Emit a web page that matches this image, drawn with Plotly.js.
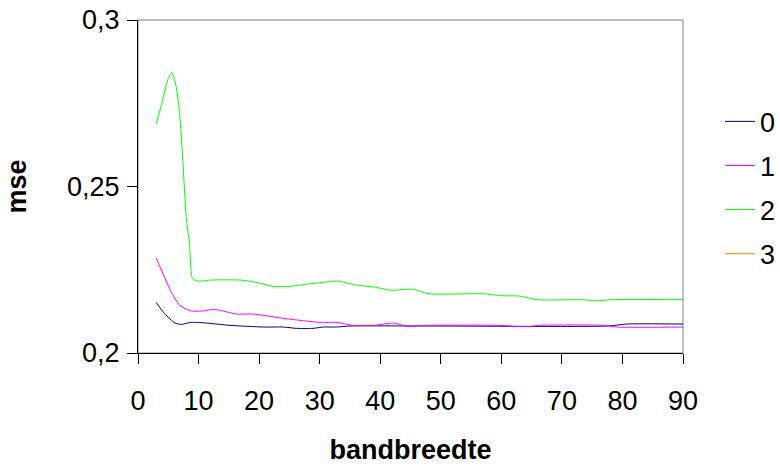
<!DOCTYPE html>
<html>
<head>
<meta charset="utf-8">
<script src="https://cdn.plot.ly/plotly-3.0.1.min.js"></script>
<style>html,body{margin:0;padding:0;background:#fff}#chart{width:780px;height:466px}</style>
</head>
<body>
<div id="chart"></div>
<script>
var seriesNames = ["0", "1", "2", "3"];

var x0 = [3, 4.4, 6.1, 7.2, 8.8, 11.3, 15.2, 20.7, 24, 26.2, 28.9, 30.6, 32.8, 35, 50, 77.6, 80.7, 90];
var y0 = [0.2152, 0.2118, 0.2090, 0.2086, 0.2092, 0.2090, 0.2083, 0.2078, 0.2078, 0.2074, 0.2074, 0.2078, 0.2078, 0.2081, 0.2081, 0.2081, 0.2087, 0.2087];

var x1 = [3, 4.1, 5.5, 6.9, 8.8, 10.5, 12, 13, 16.3, 19, 24.5, 30, 32.8, 35.5, 39, 42.2, 44.5, 48, 60, 62, 65, 66, 77, 79, 90];
var y1 = [0.2286, 0.2239, 0.2183, 0.2143, 0.2126, 0.2126, 0.2130, 0.2130, 0.2117, 0.2117, 0.2103, 0.2092, 0.2092, 0.2083, 0.2083, 0.2090, 0.2080, 0.2083, 0.2083, 0.2080, 0.2080, 0.2083, 0.2083, 0.2078, 0.2078];

var x2 = [3, 4, 5, 5.6, 6.3, 6.9, 7.4, 8, 8.5, 9, 9.9, 12, 17, 20, 22.3, 25, 28, 31, 33, 36, 39, 42, 44, 45.5, 48, 57, 60, 63, 66, 73, 76, 78, 90];
var y2 = [0.2687, 0.2755, 0.2825, 0.2842, 0.2800, 0.2714, 0.2579, 0.2399, 0.2330, 0.2224, 0.2216, 0.2219, 0.2219, 0.2210, 0.2200, 0.2200, 0.2207, 0.2213, 0.2216, 0.2204, 0.2198, 0.2188, 0.2191, 0.2191, 0.2178, 0.2178, 0.2172, 0.2171, 0.2160, 0.2160, 0.2157, 0.2160, 0.2160];

// series "3" has no visible values in the chart
var x3 = [3, 90];
var y3 = [null, null];

var xTicks = [0, 10, 20, 30, 40, 50, 60, 70, 80, 90];
var yTicks = [0.2, 0.25, 0.3];

var colors = ["#000080", "#FF00FF", "#00FF00", "#FF8000"];
var xs = [x0, x1, x2, x3];
var ys = [y0, y1, y2, y3];

var traces = seriesNames.map(function (n, i) {
  return {
    type: "scatter", mode: "lines", name: n, x: xs[i], y: ys[i],
    line: {color: colors[i], width: 1, shape: "spline", smoothing: 0.6},
    legendgroup: "g" + i, showlegend: true
  };
});

var F = "Liberation Sans, Arial, sans-serif";
var layout = {
  width: 780, height: 466,
  margin: {l: 138, r: 97, t: 20, b: 113, autoexpand: false},
  separators: ",.",
  paper_bgcolor: "#fff", plot_bgcolor: "#fff",
  font: {family: F, size: 27, color: "#000"},
  showlegend: true,
  legend: {x: 1.068, xanchor: "left", y: 0.496, yanchor: "middle",
           font: {family: F, size: 27, color: "#000"}, tracegroupgap: 6,
           bgcolor: "rgba(0,0,0,0)"},
  xaxis: {range: [0, 90], tickvals: xTicks, ticks: "outside", ticklen: 10, tickcolor: "#000",
          showline: true, linecolor: "#000", linewidth: 1, showgrid: false, zeroline: false,
          tickfont: {family: F, size: 27}, ticklabelstandoff: 14,
          title: {text: "<b>bandbreedte</b>", font: {family: F, size: 27}, standoff: 24}},
  yaxis: {range: [0.2, 0.3], tickvals: yTicks, ticks: "outside", ticklen: 10, tickcolor: "#000",
          showline: true, linecolor: "#000", linewidth: 1, showgrid: false, zeroline: false,
          tickfont: {family: F, size: 27}, ticklabelstandoff: 2,
          title: {text: "<b>mse</b>", font: {family: F, size: 27}, standoff: 32}},
  shapes: [{type: "rect", xref: "paper", yref: "paper", x0: 0, x1: 1, y0: 0, y1: 1,
            line: {color: "#808080", width: 1}, layer: "below"}]
};

Plotly.newPlot("chart", traces, layout, {displayModeBar: false, staticPlot: true});
</script>
</body>
</html>
